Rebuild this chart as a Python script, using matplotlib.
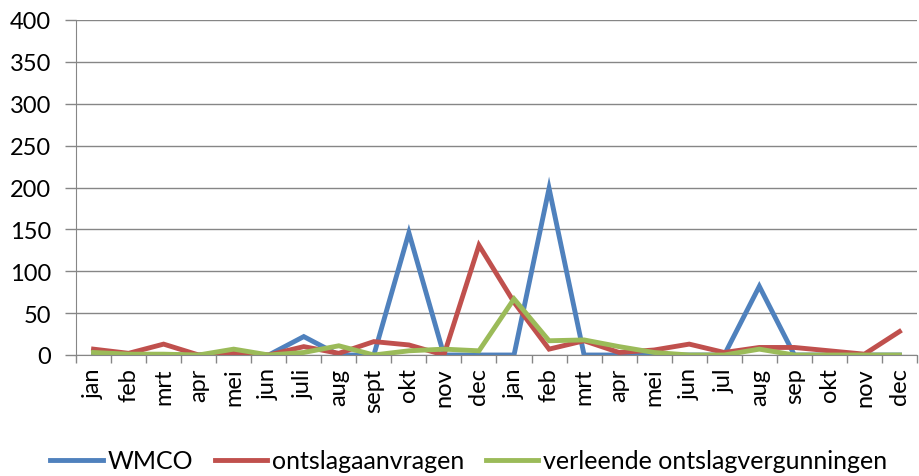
import matplotlib
matplotlib.use("Agg")
import matplotlib.pyplot as plt
from matplotlib.ticker import FixedLocator

plt.rcParams['font.family'] = ['Lato', 'DejaVu Sans']

# month labels (two years)
months = ["jan", "feb", "mrt", "apr", "mei", "jun", "juli", "aug", "sept", "okt", "nov", "dec",
          "jan", "feb", "mrt", "apr", "mei", "jun", "jul", "aug", "sep", "okt", "nov", "dec"]

wmco = [1, 0, 0, 0, 2, 0, 22, 0, 0, 146, 0, 0,
        0, 199, 0, 0, 0, 0, 0, 82, 0, 0, 0, 0]
aanvragen = [7, 2, 13, 0, 3, 0, 10, 2, 16, 12, 0, 131,
             63, 7, 17, 3, 6, 13, 3, 9, 9, 5, 1, 28]
vergunningen = [3, 1, 1, 0, 7, 0, 3, 11, 0, 5, 7, 5,
                67, 17, 18, 10, 3, 0, 0, 7, 0, 0, 0, 0]

fig = plt.figure(figsize=(9.19, 4.77), dpi=100)
ax = fig.add_axes([76/919, 1 - 356/477, (917-76)/919, (356-21)/477])

x = list(range(len(months)))
ax.plot(x, wmco, color="#4F81BD", lw=3.5, label="WMCO", solid_joinstyle="miter")
ax.plot(x, aanvragen, color="#C0504D", lw=3.5, label="ontslagaanvragen", solid_joinstyle="miter")
ax.plot(x, vergunningen, color="#9BBB59", lw=3.5, label="verleende ontslagvergunningen", solid_joinstyle="miter")

ax.set_xlim(-0.5, len(months) - 0.5)
ax.set_ylim(0, 400)
ax.set_yticks(range(0, 401, 50))
ax.grid(axis="y", color="#868686", lw=1)
ax.set_axisbelow(True)

# labels at centres, tick marks between categories
ax.set_xticks(x)
ax.set_xticklabels(months, rotation=90, fontsize=17)
ax.tick_params(axis="x", which="major", length=0, pad=9)
ax.xaxis.set_minor_locator(FixedLocator([i - 0.5 for i in range(len(months) + 1)]))
ax.tick_params(axis="x", which="minor", length=6, color="#868686", width=1)
ax.tick_params(axis="y", length=8, color="#868686", width=1, labelsize=17, pad=10)

for s in ["top", "right"]:
    ax.spines[s].set_visible(False)
ax.spines["left"].set_color("#868686")
ax.spines["bottom"].set_color("#868686")

fig.legend(loc="center", bbox_to_anchor=(0.51, 1 - 462/477), ncol=3, frameon=False,
           fontsize=18, handlelength=2.1, handletextpad=0.2, columnspacing=0.85)

fig.savefig("out.png", dpi=100)
